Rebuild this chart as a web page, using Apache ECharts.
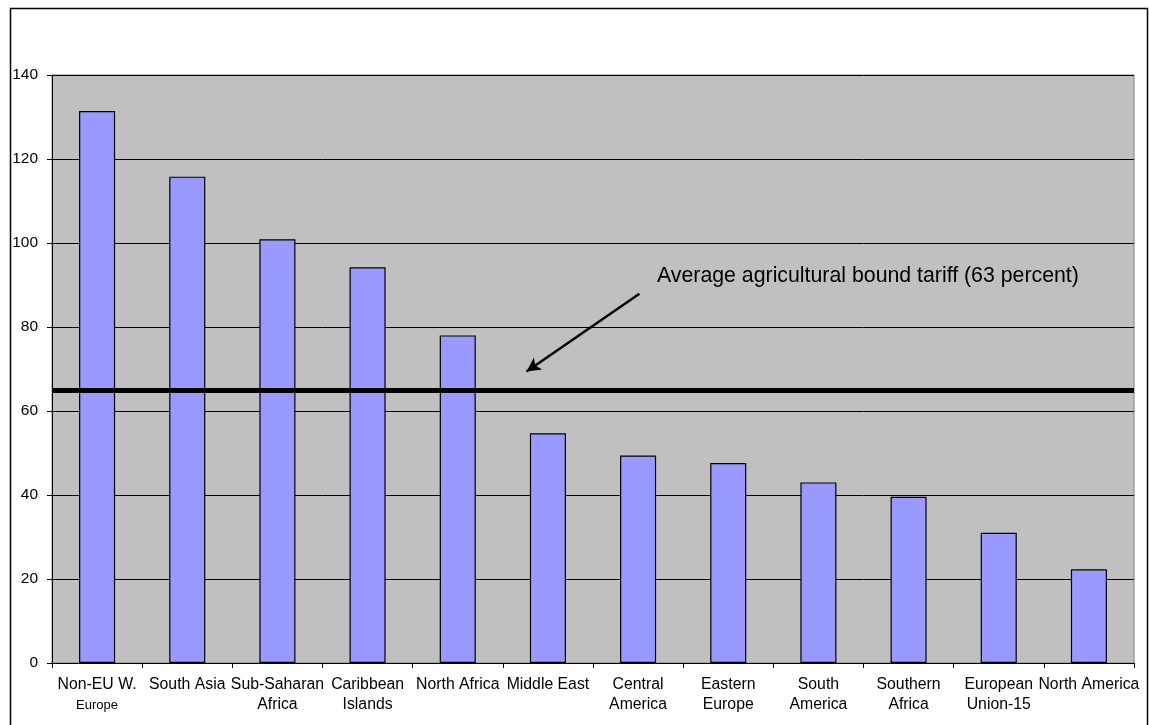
<!DOCTYPE html>
<html><head><meta charset="utf-8">
<script src="https://cdn.jsdelivr.net/npm/echarts@6/dist/echarts.min.js"></script>
<style>html,body{margin:0;padding:0;background:#fff}#c{width:1149px;height:725px}</style>
</head><body><div id="c"></div>
<script>
const categories = ["Non-EU W.\n{s|Europe}", "South Asia", "Sub-Saharan\nAfrica", "Caribbean\nIslands", "North Africa", "Middle East", "Central\nAmerica", "Eastern\nEurope", "South\nAmerica", "Southern\nAfrica", "European\nUnion-15", "North America"];
const tariffs = [131.4, 115.8, 100.9, 94.2, 78.0, 54.7, 49.4, 47.6, 43.0, 39.6, 31.0, 22.3];
const yTicks = {min: 0, max: 140, interval: 20};
const averageLine = 65;
const annotationText = "Average agricultural bound tariff (63 percent)";
const arrowFrom = [6.515, 87.9];
const arrowTo = [5.263, 69.4];

const chart = echarts.init(document.getElementById('c'), null, {renderer: 'canvas'});
const FONT = 'Liberation Sans, Arial, sans-serif';
chart.setOption({
  animation: false,
  backgroundColor: '#ffffff',
  grid: {left: 52, right: 15, top: 75, bottom: 62, show: true, backgroundColor: '#c0c0c0', borderColor: '#808080', borderWidth: 1},
  xAxis: [{
    type: 'category', data: categories,
    axisLine: {lineStyle: {color: '#000', width: 1}},
    axisTick: {show: true, length: 5, lineStyle: {color: '#000'}},
    axisLabel: {interval: 0, color: '#000', fontFamily: FONT, fontSize: 15.8, lineHeight: 20, margin: 12,
      rich: {s: {fontSize: 13, fontFamily: FONT, color: '#000', lineHeight: 20}}},
    splitLine: {show: false}
  }, {
    type: 'value', min: 0, max: 12, show: false, position: 'top'
  }],
  yAxis: {
    type: 'value', min: yTicks.min, max: yTicks.max, interval: yTicks.interval,
    axisLine: {show: true, lineStyle: {color: '#000', width: 1}},
    axisTick: {show: true, length: 5, lineStyle: {color: '#000'}},
    axisLabel: {color: '#000', fontFamily: FONT, fontSize: 15.5, margin: 14},
    splitLine: {show: true, lineStyle: {color: '#000', width: 1}}
  },
  series: [{
    type: 'bar', data: tariffs, barWidth: '40%', xAxisIndex: 0,
    itemStyle: {color: '#9999ff', borderColor: '#000', borderWidth: 1.2},
    z: 2,
    markLine: {
      silent: true, symbol: ['none', 'none'], z: 5,
      label: {show: false},
      lineStyle: {color: '#000', width: 5, type: 'solid'},
      data: [{yAxis: averageLine}]
    }
  }, {
    type: 'line', xAxisIndex: 1, data: [], z: 6,
    markLine: {
      silent: true, symbol: ['none', 'arrow'], symbolSize: [11, 14],
      label: {show: false},
      lineStyle: {color: '#000', width: 2.5, type: 'solid'},
      data: [[{coord: arrowFrom}, {coord: arrowTo}]]
    }
  }],
  graphic: [
    {type: 'rect', left: 8, top: 6, shape: {width: 1137, height: 722}, style: {fill: 'none', stroke: '#000', lineWidth: 1.5}, silent: true, z: 100},
    {type: 'text', left: 657, top: 266, style: {text: annotationText, font: '21.3px ' + FONT, fill: '#000'}, z: 100}
  ]
});
</script></body></html>
